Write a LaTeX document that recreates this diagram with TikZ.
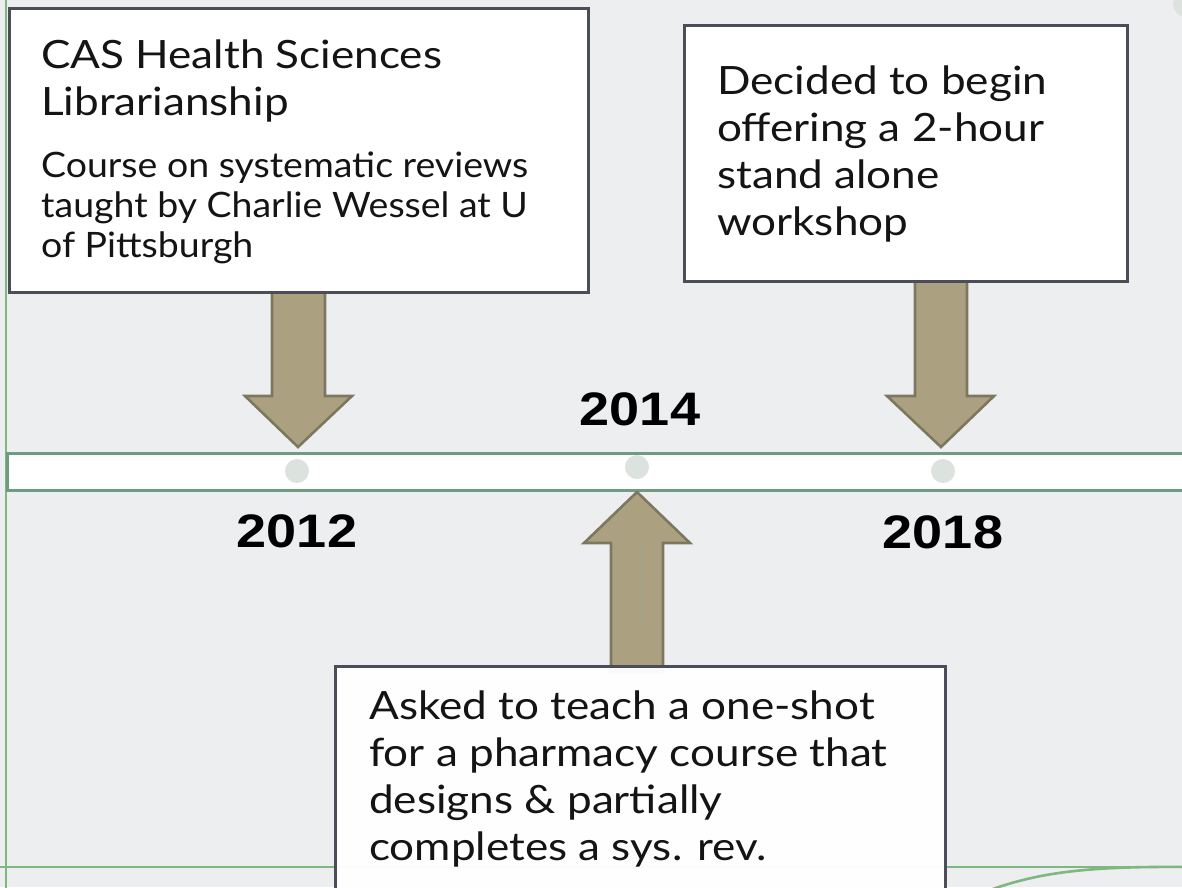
\documentclass[tikz,border=0pt]{standalone}
\usepackage{fontspec}
\setmainfont{Lato}
\newfontfamily\bigface{Lato}[FakeStretch=1.13]
\newfontfamily\smallface{Lato}[FakeStretch=1.07]
\newfontfamily\yearfont{Liberation Sans}
\usetikzlibrary{calc}
\definecolor{bgcol}{HTML}{EDEEF0}
\definecolor{boxline}{HTML}{4B4E58}
\definecolor{arrowfill}{HTML}{ABA07F}
\definecolor{arrowline}{HTML}{7E7760}
\definecolor{bandline}{HTML}{6F9B82}
\definecolor{dotcol}{HTML}{DCE3DF}
\definecolor{guide}{HTML}{80B780}
\definecolor{ink}{HTML}{141414}
\tikzset{
  eventbox/.style={draw=boxline, line width=3pt, fill=white, anchor=north west, inner sep=0pt},
  bigtext/.style={anchor=base west, inner sep=0pt, text=ink, align=left,
    font=\bigface\fontsize{39}{47}\selectfont},
  smalltext/.style={anchor=base west, inner sep=0pt, text=ink, align=left,
    font=\smallface\fontsize{35}{40}\selectfont},
  fatarrow/.style={fill=arrowfill, draw=arrowline, line width=2.6pt, line join=miter},
  timedot/.style={circle, fill=dotcol, minimum size=24pt, inner sep=0pt},
  year/.style={anchor=base, inner sep=0pt, text=black,
    font=\yearfont\bfseries\fontsize{47}{47}\selectfont},
  guideline/.style={draw=guide, line width=2.6pt}
}
\begin{document}
\begin{tikzpicture}[x=1pt,y=-1pt]
\useasboundingbox (0,0) rectangle (1182,887);
\fill[bgcol] (0,0) rectangle (1182,887);

% slide guides
\draw[guideline] (6,-5) -- (6,892);
\draw[guideline] (-5,867) -- (1190,867);
\draw[guideline] (990,890) .. controls (1040,872) and (1090,866) .. (1190,867);
\fill[dotcol] (1186,4) circle (13);

% timeline band
\draw[draw=bandline, line width=3pt, fill=white] (7,453) rectangle (1195,490);
\node[timedot] (d12) at (297,471) {};
\node[timedot] (d14) at (637,467) {};
\node[timedot] (d18) at (943,471) {};

% years
\node[year] (y12) at (297,547) {\scalebox{1.15}[1]{2012}};
\node[year] (y14) at (640,425) {\scalebox{1.15}[1]{2014}};
\node[year] (y18) at (943,548) {\scalebox{1.15}[1]{2018}};

% block arrows pointing at the timeline
\draw[fatarrow] (272,291) -- (325,291) -- (325,396) -- (352,396) -- (298,447)
  -- (245,396) -- (272,396) -- cycle;
\draw[fatarrow] (915,280) -- (967,280) -- (967,396) -- (994,396) -- (941,447)
  -- (887,396) -- (915,396) -- cycle;
\draw[fatarrow] (611,672) -- (611,543) -- (584,543) -- (637,492) -- (690,543)
  -- (663,543) -- (663,672) -- cycle;
\draw[bandline!80, line width=1pt, dash pattern=on 5pt off 4pt] (640,544) -- (640,623);

% event boxes (text nodes sit on the baseline of their last line)
\node[eventbox, minimum width=579pt, minimum height=284pt] (b12) at (8,7) {};
\node[bigtext] (t12a) at (41,115) {CAS Health Sciences\\Librarianship};
\node[smalltext] (t12b) at (41,257) {Course on systematic reviews\\taught by Charlie Wessel at U\\of Pittsburgh};

\node[eventbox, minimum width=443pt, minimum height=256pt] (b18) at (683,24) {};
\node[bigtext] (t18) at (717,235) {Decided to begin\\offering a 2-hour\\stand alone\\workshop};

\node[eventbox, fill opacity=0.96, minimum width=610pt, minimum height=260pt] (b14) at (334,665) {};
\node[bigtext] (t14) at (369,860) {Asked to teach a one-shot\\for a pharmacy course that\\designs \& partially\\completes a sys. rev.};
\end{tikzpicture}
\end{document}
